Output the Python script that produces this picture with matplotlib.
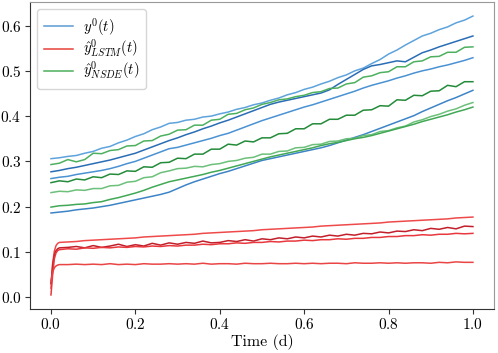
import numpy as np
import matplotlib
matplotlib.use("Agg")
import matplotlib.pyplot as plt
from matplotlib.lines import Line2D

plt.rcParams["font.family"] = "serif"
plt.rcParams["font.serif"] = ["cmr10"]
plt.rcParams["mathtext.fontset"] = "cm"
plt.rcParams["axes.formatter.use_mathtext"] = True

# time grid for observed / NSDE paths (days)
t = np.linspace(0, 1, 51)
# LSTM paths have a fast start, so a finer grid at the beginning
t_lstm = np.concatenate([[0.0, 0.004, 0.008, 0.012, 0.016], np.linspace(0.02, 1, 50)])

# observed paths y^0(t)
y_obs_1 = [0.306, 0.308, 0.311, 0.313, 0.318, 0.322, 0.329, 0.333, 0.341, 0.347, 0.355,
           0.361, 0.370, 0.376, 0.384, 0.386, 0.391, 0.393, 0.398, 0.400, 0.405, 0.409,
           0.415, 0.419, 0.425, 0.429, 0.435, 0.440, 0.447, 0.452, 0.459, 0.464, 0.471,
           0.477, 0.485, 0.491, 0.500, 0.506, 0.516, 0.525, 0.537, 0.546, 0.557, 0.567,
           0.577, 0.583, 0.591, 0.597, 0.606, 0.612, 0.621]
y_obs_2 = [0.277, 0.280, 0.284, 0.287, 0.291, 0.295, 0.299, 0.303, 0.308, 0.313, 0.318,
           0.325, 0.332, 0.339, 0.346, 0.352, 0.359, 0.365, 0.372, 0.378, 0.385, 0.391,
           0.398, 0.405, 0.412, 0.419, 0.426, 0.431, 0.435, 0.439, 0.443, 0.447, 0.451,
           0.458, 0.470, 0.481, 0.492, 0.503, 0.511, 0.514, 0.518, 0.522, 0.520, 0.530,
           0.540, 0.546, 0.553, 0.559, 0.565, 0.571, 0.577]
y_obs_3 = [0.262, 0.265, 0.267, 0.271, 0.274, 0.277, 0.280, 0.284, 0.289, 0.295, 0.300,
           0.307, 0.314, 0.321, 0.328, 0.331, 0.336, 0.341, 0.346, 0.351, 0.357, 0.362,
           0.369, 0.376, 0.383, 0.390, 0.396, 0.402, 0.408, 0.414, 0.420, 0.425, 0.431,
           0.437, 0.443, 0.449, 0.455, 0.462, 0.468, 0.473, 0.478, 0.484, 0.489, 0.495,
           0.500, 0.504, 0.509, 0.513, 0.518, 0.523, 0.529]
y_obs_4 = [0.186, 0.188, 0.190, 0.193, 0.195, 0.197, 0.200, 0.203, 0.207, 0.211, 0.215,
           0.219, 0.223, 0.227, 0.232, 0.240, 0.248, 0.255, 0.261, 0.267, 0.273, 0.278,
           0.284, 0.290, 0.296, 0.302, 0.306, 0.310, 0.314, 0.318, 0.322, 0.326, 0.330,
           0.335, 0.341, 0.347, 0.353, 0.359, 0.366, 0.373, 0.380, 0.387, 0.394, 0.401,
           0.410, 0.418, 0.426, 0.434, 0.441, 0.449, 0.457]

# NSDE predictions
y_nsde_1 = [0.293, 0.296, 0.304, 0.299, 0.304, 0.318, 0.317, 0.324, 0.326, 0.334, 0.335,
            0.345, 0.346, 0.356, 0.360, 0.369, 0.370, 0.380, 0.380, 0.391, 0.393, 0.404,
            0.406, 0.414, 0.418, 0.426, 0.430, 0.436, 0.438, 0.443, 0.446, 0.452, 0.454,
            0.461, 0.462, 0.471, 0.474, 0.486, 0.489, 0.496, 0.498, 0.509, 0.509, 0.520,
            0.522, 0.531, 0.532, 0.541, 0.541, 0.552, 0.553]
y_nsde_2 = [0.253, 0.257, 0.255, 0.261, 0.259, 0.266, 0.264, 0.272, 0.271, 0.279, 0.278,
            0.288, 0.287, 0.297, 0.298, 0.307, 0.306, 0.316, 0.316, 0.327, 0.327, 0.338,
            0.336, 0.345, 0.343, 0.352, 0.352, 0.361, 0.362, 0.372, 0.372, 0.383, 0.383,
            0.393, 0.393, 0.402, 0.402, 0.413, 0.414, 0.423, 0.422, 0.436, 0.435, 0.446,
            0.445, 0.455, 0.456, 0.468, 0.465, 0.476, 0.476]
y_nsde_3 = [0.231, 0.234, 0.233, 0.237, 0.236, 0.240, 0.240, 0.246, 0.247, 0.254, 0.256,
            0.264, 0.266, 0.275, 0.279, 0.284, 0.285, 0.289, 0.288, 0.293, 0.295, 0.300,
            0.302, 0.307, 0.309, 0.316, 0.316, 0.322, 0.323, 0.330, 0.331, 0.337, 0.338,
            0.344, 0.345, 0.350, 0.351, 0.357, 0.359, 0.366, 0.368, 0.374, 0.378, 0.387,
            0.392, 0.399, 0.404, 0.411, 0.416, 0.424, 0.430]
y_nsde_4 = [0.199, 0.202, 0.203, 0.205, 0.206, 0.209, 0.211, 0.216, 0.220, 0.225, 0.230,
            0.236, 0.243, 0.249, 0.255, 0.259, 0.263, 0.267, 0.271, 0.276, 0.280, 0.285,
            0.290, 0.295, 0.300, 0.305, 0.310, 0.314, 0.318, 0.322, 0.326, 0.330, 0.335,
            0.339, 0.342, 0.346, 0.350, 0.353, 0.357, 0.362, 0.367, 0.372, 0.377, 0.382,
            0.388, 0.393, 0.398, 0.403, 0.409, 0.414, 0.420]

# LSTM predictions
y_lstm_1 = [0.020, 0.075, 0.102, 0.114, 0.119,
            0.121, 0.122, 0.123, 0.125, 0.126, 0.127, 0.128, 0.129, 0.130, 0.131, 0.133,
            0.134, 0.135, 0.136, 0.137, 0.138, 0.139, 0.141, 0.142, 0.143, 0.144, 0.145,
            0.146, 0.147, 0.149, 0.150, 0.151, 0.152, 0.153, 0.154, 0.155, 0.157, 0.158,
            0.159, 0.160, 0.161, 0.162, 0.163, 0.164, 0.166, 0.167, 0.168, 0.169, 0.170,
            0.171, 0.172, 0.173, 0.175, 0.176, 0.177]
y_lstm_2 = [0.030, 0.070, 0.093, 0.103, 0.107,
            0.109, 0.110, 0.112, 0.109, 0.114, 0.110, 0.113, 0.117, 0.112, 0.116, 0.113,
            0.119, 0.115, 0.120, 0.117, 0.121, 0.119, 0.124, 0.120, 0.121, 0.125, 0.123,
            0.127, 0.124, 0.129, 0.127, 0.131, 0.129, 0.133, 0.131, 0.135, 0.133, 0.137,
            0.135, 0.139, 0.137, 0.141, 0.140, 0.144, 0.142, 0.146, 0.145, 0.149, 0.147,
            0.152, 0.150, 0.154, 0.151, 0.157, 0.156]
y_lstm_3 = [0.005, 0.050, 0.085, 0.098, 0.103,
            0.105, 0.107, 0.106, 0.109, 0.108, 0.110, 0.109, 0.111, 0.110, 0.112, 0.111,
            0.113, 0.112, 0.114, 0.113, 0.115, 0.115, 0.117, 0.116, 0.118, 0.118, 0.120,
            0.119, 0.121, 0.121, 0.123, 0.122, 0.124, 0.124, 0.126, 0.125, 0.127, 0.127,
            0.129, 0.128, 0.130, 0.130, 0.132, 0.132, 0.134, 0.134, 0.136, 0.136, 0.138,
            0.137, 0.139, 0.139, 0.141, 0.140, 0.141]
y_lstm_4 = [0.035, 0.055, 0.065, 0.069, 0.071,
            0.072, 0.072, 0.073, 0.072, 0.073, 0.072, 0.074, 0.072, 0.073, 0.072, 0.074,
            0.073, 0.073, 0.074, 0.073, 0.074, 0.073, 0.075, 0.073, 0.074, 0.074, 0.073,
            0.075, 0.074, 0.074, 0.075, 0.074, 0.074, 0.075, 0.074, 0.075, 0.074, 0.075,
            0.075, 0.074, 0.076, 0.075, 0.075, 0.076, 0.075, 0.076, 0.075, 0.076, 0.076,
            0.075, 0.077, 0.076, 0.078, 0.077, 0.077]

obs_paths = [y_obs_1, y_obs_2, y_obs_3, y_obs_4]
obs_colors = ["#5ea3dc", "#2a6db5", "#4a92d3", "#3d84c6"]
nsde_paths = [y_nsde_1, y_nsde_2, y_nsde_3, y_nsde_4]
nsde_colors = ["#4db05f", "#238b3a", "#6cc07a", "#41a855"]
lstm_paths = [y_lstm_1, y_lstm_2, y_lstm_3, y_lstm_4]
lstm_colors = ["#ef4a4a", "#c21f2a", "#e8383d", "#ea4545"]

fig = plt.figure(figsize=(4.98, 3.53), dpi=100)
ax = fig.add_axes([0.060, 0.125, 0.932, 0.869])

for y, c in zip(obs_paths, obs_colors):
    ax.plot(t, y, color=c, lw=1.1)
for y, c in zip(lstm_paths, lstm_colors):
    ax.plot(t_lstm, y, color=c, lw=1.1)
for y, c in zip(nsde_paths, nsde_colors):
    ax.plot(t, y, color=c, lw=1.1)

# legend uses the mid-shade of each colour family
handles = [Line2D([], [], color="#5b9bd5", lw=1.1),
           Line2D([], [], color="#e8413c", lw=1.1),
           Line2D([], [], color="#4caf5b", lw=1.1)]
labels = [r"$y^0(t)$", r"$\hat{y}^0_{LSTM}(t)$", r"$\hat{y}^0_{NSDE}(t)$"]
ax.legend(handles, labels, loc="upper left", fontsize=10.5, framealpha=0.8,
          edgecolor="#cccccc", fancybox=True, labelspacing=0.0,
          handlelength=2.0, handletextpad=0.7, borderpad=0.45)

ax.set_xticks([0.0, 0.2, 0.4, 0.6, 0.8, 1.0])
ax.set_yticks([0.0, 0.1, 0.2, 0.3, 0.4, 0.5, 0.6])
ax.tick_params(labelsize=11, length=3.5, width=0.8, color="#333333", pad=2.5)
ax.set_xlabel("Time (d)", fontsize=11.5, labelpad=1)

for side in ["left", "bottom"]:
    ax.spines[side].set_color("#333333")
for side in ["top", "right"]:
    ax.spines[side].set_color("#999999")

fig.savefig("out.png", dpi=100)
